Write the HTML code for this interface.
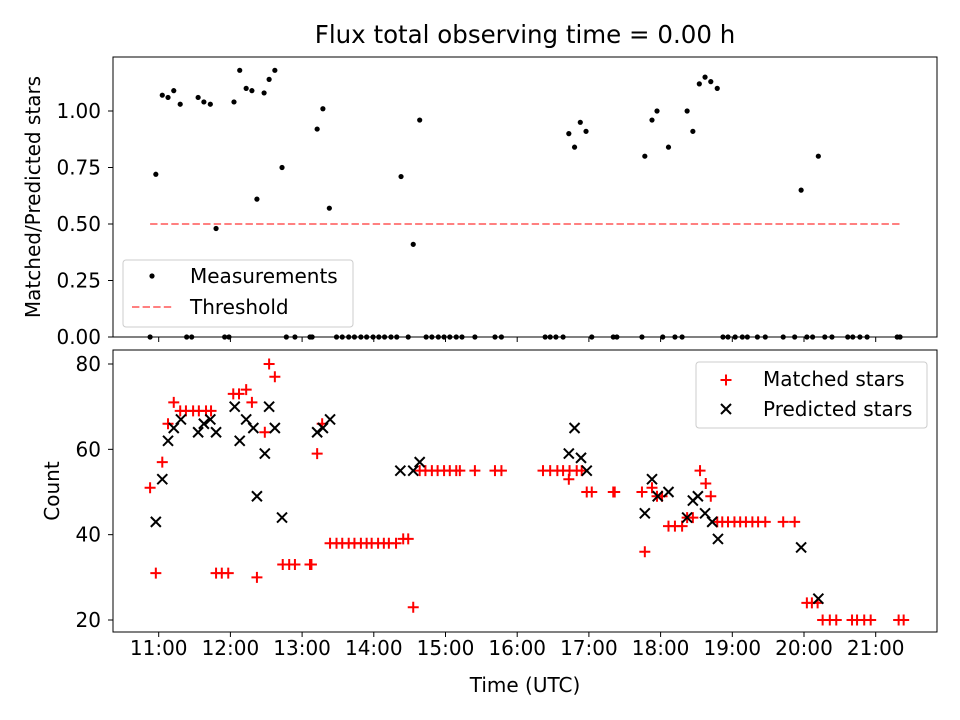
<!DOCTYPE html>
<html><head><meta charset="utf-8"><style>
body{margin:0;background:#fff;}
svg{position:absolute;left:0;top:0}
svg text{font-family:"DejaVu Sans","Liberation Sans",sans-serif;fill:#000;}
</style></head><body>
<svg id="chart" width="960" height="720" xmlns="http://www.w3.org/2000/svg">
<rect width="960" height="720" fill="#fff"/>
<text x="525" y="43" font-size="24.5" text-anchor="middle">Flux total observing time = 0.00 h</text>
<g id="topG"></g><g id="botG"></g>
</svg>
<script>
const ratioTimes=[10.96,11.05,11.13,11.21,11.30,11.55,11.63,11.72,11.80,12.05,12.13,12.22,12.30,12.37,12.47,12.54,12.62,12.72,13.21,13.29,13.38,14.38,14.55,14.64,16.72,16.80,16.88,16.96,17.78,17.88,17.95,18.11,18.37,18.45,18.54,18.62,18.70,18.79,19.96,20.20];
const ratioValues=[0.72,1.07,1.06,1.09,1.03,1.06,1.04,1.03,0.48,1.04,1.18,1.10,1.09,0.61,1.08,1.14,1.18,0.75,0.92,1.01,0.57,0.71,0.41,0.96,0.90,0.84,0.95,0.91,0.80,0.96,1.00,0.84,1.00,0.91,1.12,1.15,1.13,1.10,0.65,0.80];
const zeroTimes=[10.88,11.39,11.46,11.92,11.98,12.78,12.90,13.11,13.14,13.48,13.56,13.65,13.73,13.82,13.90,13.99,14.07,14.15,14.24,14.32,14.48,14.73,14.81,14.90,14.98,15.06,15.15,15.23,15.41,15.69,15.78,16.39,16.46,16.54,16.64,17.04,17.34,17.39,17.74,18.03,18.20,18.30,18.87,18.94,19.04,19.14,19.21,19.35,19.46,19.71,19.87,20.04,20.12,20.29,20.39,20.61,20.68,20.78,20.88,21.30,21.34];
const threshold=0.5;
const thresholdRange=[10.88,21.34];
const matchedTimes=[10.88,10.96,11.05,11.13,11.21,11.30,11.38,11.48,11.56,11.66,11.73,11.80,11.88,11.97,12.04,12.12,12.22,12.30,12.37,12.48,12.54,12.62,12.73,12.82,12.90,13.11,13.13,13.21,13.28,13.39,13.48,13.56,13.65,13.73,13.82,13.90,13.97,14.06,14.14,14.21,14.31,14.41,14.48,14.55,14.64,14.72,14.81,14.89,14.98,15.06,15.15,15.20,15.41,15.69,15.78,16.36,16.46,16.56,16.64,16.73,16.83,16.90,16.72,16.97,17.04,17.34,17.36,17.74,17.78,17.88,17.95,18.02,18.11,18.20,18.30,18.37,18.45,18.55,18.63,18.70,18.79,18.86,18.94,19.03,19.11,19.19,19.28,19.36,19.46,19.71,19.87,20.04,20.11,20.19,20.26,20.36,20.45,20.67,20.74,20.84,20.93,21.32,21.39];
const matchedCounts=[51,31,57,66,71,69,69,69,69,69,69,31,31,31,73,73,74,71,30,64,80,77,33,33,33,33,33,59,66,38,38,38,38,38,38,38,38,38,38,38,38,39,39,23,55,55,55,55,55,55,55,55,55,55,55,55,55,55,55,55,55,55,53,50,50,50,50,50,36,51,49,49,42,42,42,44,44,55,52,49,43,43,43,43,43,43,43,43,43,43,43,24,24,24,20,20,20,20,20,20,20,20,20];
const predTimes=[10.96,11.05,11.13,11.21,11.31,11.55,11.63,11.72,11.80,12.06,12.13,12.22,12.32,12.37,12.48,12.54,12.62,12.72,13.21,13.29,13.39,14.37,14.55,14.64,16.72,16.80,16.89,16.97,17.78,17.88,17.96,18.11,18.37,18.45,18.52,18.62,18.72,18.80,19.96,20.20];
const predCounts=[43,53,62,65,67,64,66,67,64,70,62,67,65,49,59,70,65,44,64,65,67,55,55,57,59,65,58,55,45,53,49,50,44,48,49,45,43,39,37,25];
const xTickHours=[11,12,13,14,15,16,17,18,19,20,21];
const xTickLabels=["11:00","12:00","13:00","14:00","15:00","16:00","17:00","18:00","19:00","20:00","21:00"];
const topTicks=[0,0.25,0.5,0.75,1.0];
const topTickLabels=["0.00","0.25","0.50","0.75","1.00"];
const botTicks=[20,40,60,80];
const botTickLabels=["20","40","60","80"];

const NS="http://www.w3.org/2000/svg";
const L=113,R=937,T1=57,B1=337,T2=350,B2=632;
const xMin=10.3626,xMax=21.855;
function X(h){return L+(h-xMin)/(xMax-xMin)*(R-L);}
function Y1(v){return B1-v*226;}
function Y2(v){return 620-(v-20)*256/60;}
function mk(tag,attrs,parent){const e=document.createElementNS(NS,tag);for(const k in attrs)e.setAttribute(k,attrs[k]);parent.appendChild(e);return e;}
const topG=document.getElementById('topG'),botG=document.getElementById('botG');

let th=mk('line',{x1:X(thresholdRange[0]),x2:X(thresholdRange[1]),y1:Y1(threshold),y2:Y1(threshold),stroke:'#ff8080','stroke-width':2,'stroke-dasharray':'7.4,3.2'},topG);


function dot(t,v){const c=mk('circle',{cx:X(t),cy:Y1(v),r:2.6,fill:'#000'},topG);

}
ratioTimes.forEach((t,i)=>dot(t,ratioValues[i]));
zeroTimes.forEach(t=>dot(t,0));

matchedTimes.forEach((t,i)=>{const x=X(t),y=Y2(matchedCounts[i]);
const p=mk('path',{d:`M${x-5.5},${y}H${x+5.5}M${x},${y-5.5}V${y+5.5}`,stroke:'#f00','stroke-width':2},botG);

});
predTimes.forEach((t,i)=>{const x=X(t),y=Y2(predCounts[i]);
const p=mk('path',{d:`M${x-5},${y-5}L${x+5},${y+5}M${x-5},${y+5}L${x+5},${y-5}`,stroke:'#000','stroke-width':2},botG);

});

[[T1,B1,topG],[T2,B2,botG]].forEach(([t,b,g])=>{const r=mk('rect',{x:L,y:t,width:R-L,height:b-t,fill:'none',stroke:'#000','stroke-width':1},g);

});
xTickHours.forEach((h,i)=>{const x=X(h);
mk('line',{x1:x,x2:x,y1:B1,y2:B1+5,stroke:'#000'},topG);
mk('line',{x1:x,x2:x,y1:B2,y2:B2+5,stroke:'#000'},botG);
const tx=mk('text',{x:x,y:B2+23,'font-size':20,'text-anchor':'middle'},botG);tx.textContent=xTickLabels[i];

});
topTicks.forEach((v,i)=>{const y=Y1(v);mk('line',{x1:L-5,x2:L,y1:y,y2:y,stroke:'#000'},topG);
const tx=mk('text',{x:L-12,y:y+7,'font-size':20,'text-anchor':'end'},topG);tx.textContent=topTickLabels[i];

});
botTicks.forEach((v,i)=>{const y=Y2(v);mk('line',{x1:L-5,x2:L,y1:y,y2:y,stroke:'#000'},botG);
const tx=mk('text',{x:L-12,y:y+7,'font-size':20,'text-anchor':'end'},botG);tx.textContent=botTickLabels[i];

});
</script>
<svg width="960" height="720" xmlns="http://www.w3.org/2000/svg">
<text x="40" y="197" font-size="20" text-anchor="middle" transform="rotate(-90 40 197)">Matched/Predicted stars</text>
<text x="59" y="491" font-size="20" text-anchor="middle" transform="rotate(-90 59 491)">Count</text>
<text x="525" y="692" font-size="20" text-anchor="middle">Time (UTC)</text>
<g font-size="20">
<rect x="123" y="260" width="230" height="67" rx="3" fill="#fff" fill-opacity="0.8" stroke="#ccc"/>
<circle cx="152" cy="276" r="2.6" fill="#000"/>
<text x="190" y="283">Measurements</text>
<line x1="132" x2="173" y1="307" y2="307" stroke="#ff8080" stroke-width="2" stroke-dasharray="7.4,3.2"/>
<text x="190" y="314">Threshold</text>
</g>
<g font-size="20">
<rect x="696" y="362" width="231" height="66" rx="3" fill="#fff" fill-opacity="0.8" stroke="#ccc"/>
<path d="M720.5,380H731.5M726,374.5V385.5" stroke="#f00" stroke-width="2"/>
<text x="763" y="386">Matched stars</text>
<path d="M721,404L731,414M721,414L731,404" stroke="#000" stroke-width="2"/>
<text x="763" y="416">Predicted stars</text>
</g>
</svg>
</body></html>
